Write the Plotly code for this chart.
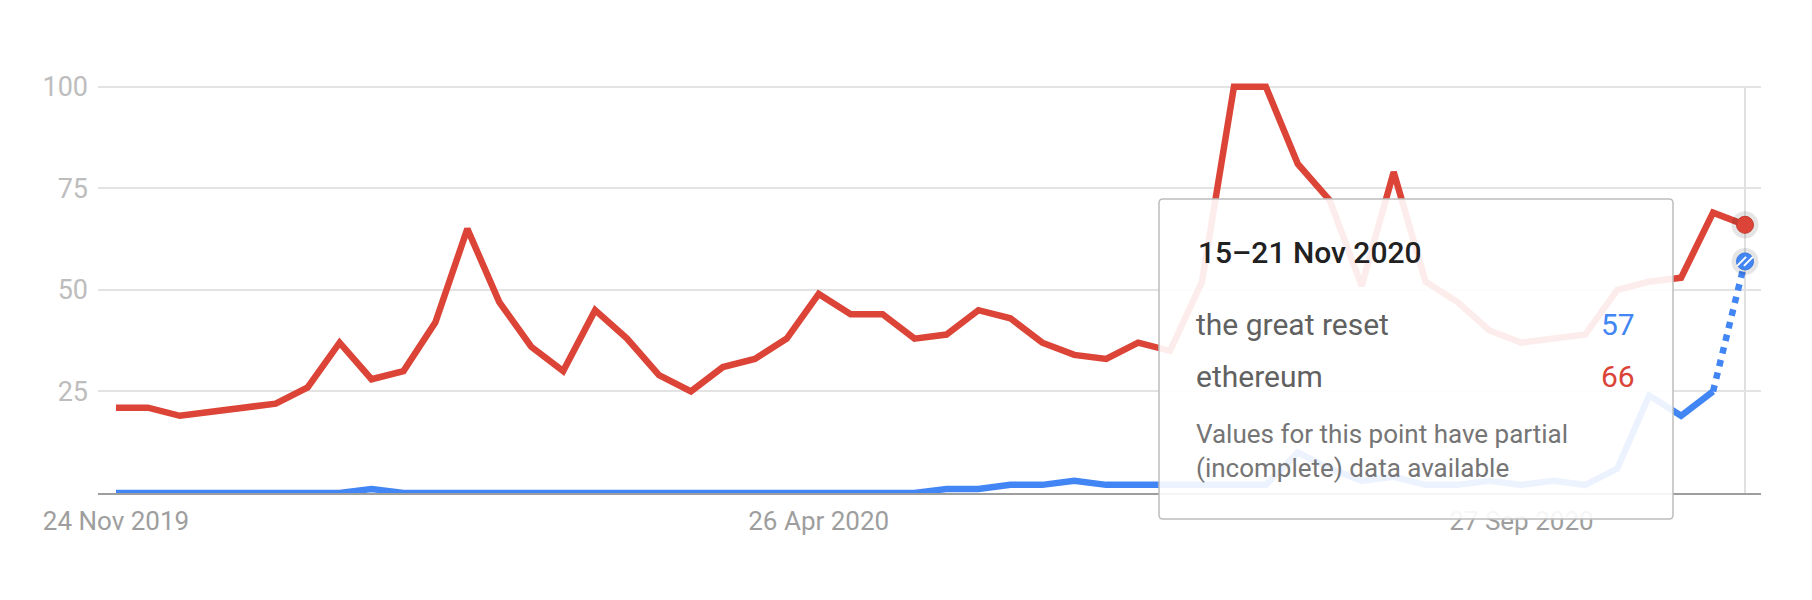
import pandas as pd
import plotly.graph_objects as go

# ---- data ----
start_week = "2019-11-24"
n_weeks = 52
ethereum = [21, 21, 19, 20, 21, 22, 26, 37, 28, 30,
            42, 65, 47, 36, 30, 45, 38, 29, 25, 31,
            33, 38, 49, 44, 44, 38, 39, 45, 43, 37,
            34, 33, 37, 35, 52, 100, 100, 81, 72, 51,
            79, 52, 47, 40, 37, 38, 39, 50, 52, 53,
            69, 66]
great_reset = [0, 0, 0, 0, 0, 0, 0, 0, 1, 0,
               0, 0, 0, 0, 0, 0, 0, 0, 0, 0,
               0, 0, 0, 0, 0, 0, 1, 1, 2, 2,
               3, 2, 2, 2, 2, 2, 2, 10, 6, 3,
               4, 2, 2, 3, 2, 3, 2, 6, 24, 19,
               25, 57]
tick_dates = ["2019-11-24", "2020-04-26", "2020-09-27"]
tick_text = ["24 Nov 2019", "26 Apr 2020", "27 Sep 2020"]
y_ticks = [25, 50, 75, 100]
tooltip_title = "15–21 Nov 2020"
series_names = ["the great reset", "ethereum"]
note_lines = ["Values for this point have partial", "(incomplete) data available"]

dates = pd.date_range(start_week, periods=n_weeks, freq="7D")

RED = "#db4437"
BLUE = "#4285f4"
FONT = "Roboto"

# ---- layout geometry (page pixels; the page body has an 8px margin) ----
BODY = 8
W_FIG, H_FIG = 1812 - 2 * BODY, 600 - 2 * BODY
L, R, T, B = 98, 1761, 80, 493
PW, PH = R - L, B - T
px_per_unit = (493 - 86.7) / 100.0
y_top = PH / px_per_unit
week_px = (1745 - 116) / (n_weeks - 1)
left_pad_days = (116 - L) / week_px * 7
right_pad_days = (R - 1745) / week_px * 7
x_range = [dates[0] - pd.Timedelta(days=left_pad_days),
           dates[-1] + pd.Timedelta(days=right_pad_days)]


def px(x):
    return (x - L) / PW


def py(y):
    return (B - y) / PH


LW = 6.5
fig = go.Figure()

# lines
fig.add_trace(go.Scatter(x=dates[:-1], y=great_reset[:-1], mode="lines",
                         line=dict(color=BLUE, width=LW), hoverinfo="skip"))
fig.add_trace(go.Scatter(x=dates[-2:], y=great_reset[-2:], mode="lines",
                         line=dict(color=BLUE, width=LW, dash="dot"), hoverinfo="skip"))
fig.add_trace(go.Scatter(x=dates, y=ethereum, mode="lines",
                         line=dict(color=RED, width=LW), hoverinfo="skip"))

# end markers with halo
fig.add_trace(go.Scatter(x=[dates[-1], dates[-1]], y=[ethereum[-1], great_reset[-1]], mode="markers",
                         marker=dict(size=27, color="rgba(0,0,0,0.10)", line=dict(width=0)),
                         hoverinfo="skip"))
fig.add_trace(go.Scatter(x=[dates[-1]], y=[ethereum[-1]], mode="markers",
                         marker=dict(size=17, color=RED, line=dict(width=1, color="#c5392d")),
                         hoverinfo="skip"))
fig.add_trace(go.Scatter(x=[dates[-1]], y=[great_reset[-1]], mode="markers",
                         marker=dict(size=17, color=BLUE, line=dict(width=1, color="#3b78dc")),
                         hoverinfo="skip"))
stripe_dx = pd.Timedelta(days=3.4 / week_px * 7)
fig.add_trace(go.Scatter(x=[dates[-1] - stripe_dx, dates[-1] + stripe_dx],
                         y=[great_reset[-1], great_reset[-1]], mode="markers",
                         marker=dict(size=9, symbol="line-ne", line=dict(width=2, color="white")),
                         hoverinfo="skip"))

shapes = []
# vertical marker line at last point
shapes.append(dict(type="line", xref="x", yref="y", x0=dates[-1], x1=dates[-1], y0=0, y1=100,
                   line=dict(color="#e0e0e0", width=2), layer="below"))

# tooltip box with rounded corners
x0, x1, y0, y1, r = 1159, 1673, 199, 519, 4
path = (f"M {px(x0 + r)},{py(y0)} L {px(x1 - r)},{py(y0)} Q {px(x1)},{py(y0)} {px(x1)},{py(y0 + r)} "
        f"L {px(x1)},{py(y1 - r)} Q {px(x1)},{py(y1)} {px(x1 - r)},{py(y1)} "
        f"L {px(x0 + r)},{py(y1)} Q {px(x0)},{py(y1)} {px(x0)},{py(y1 - r)} "
        f"L {px(x0)},{py(y0 + r)} Q {px(x0)},{py(y0)} {px(x0 + r)},{py(y0)} Z")
shapes.append(dict(type="path", xref="paper", yref="paper", path=path,
                   fillcolor="rgba(255,255,255,0.90)", line=dict(color="#bdbdbd", width=1.5),
                   layer="above"))

annotations = []


def ann(text, x, y_base, size, color, anchor="left", weight=None):
    f = dict(family=FONT, size=size, color=color)
    if weight:
        f["weight"] = weight
    annotations.append(dict(text=text, xref="paper", yref="paper", x=px(x), y=py(y_base - 0.36 * size),
                            xanchor=anchor, yanchor="middle", showarrow=False, font=f))


ann(tooltip_title, 1196, 263, 30, "#212121", weight=500)
ann(series_names[0], 1194, 335, 30, "#616161")
ann(str(great_reset[-1]), 1637, 335, 30, BLUE, anchor="right")
ann(series_names[1], 1194, 387, 30, "#616161")
ann(str(ethereum[-1]), 1637, 387, 30, RED, anchor="right")
ann(note_lines[0], 1194, 443, 26, "#757575")
ann(note_lines[1], 1194, 477, 26, "#757575")

fig.update_layout(
    width=W_FIG, height=H_FIG,
    margin=dict(l=L - BODY, r=(1812 - BODY) - R, t=T - BODY, b=(600 - BODY) - B),
    plot_bgcolor="white", paper_bgcolor="white",
    showlegend=False,
    font=dict(family=FONT),
    shapes=shapes,
    annotations=annotations,
    xaxis=dict(range=x_range, tickvals=list(pd.to_datetime(tick_dates)), ticktext=tick_text,
               showgrid=False, zeroline=False, showline=True, linecolor="#9e9e9e", linewidth=2,
               ticks="", tickfont=dict(family=FONT, size=26, color="#9e9e9e"),
               ticklabelstandoff=4, layer="below traces", fixedrange=True),
    yaxis=dict(range=[0, y_top], tickvals=y_ticks, showgrid=True, gridcolor="#e3e3e3", gridwidth=2,
               zeroline=False, showline=False, ticks="",
               tickfont=dict(family=FONT, size=27, color="#bdbdbd"),
               ticklabelstandoff=9, layer="below traces", fixedrange=True),
)

fig.write_html("out.html")
